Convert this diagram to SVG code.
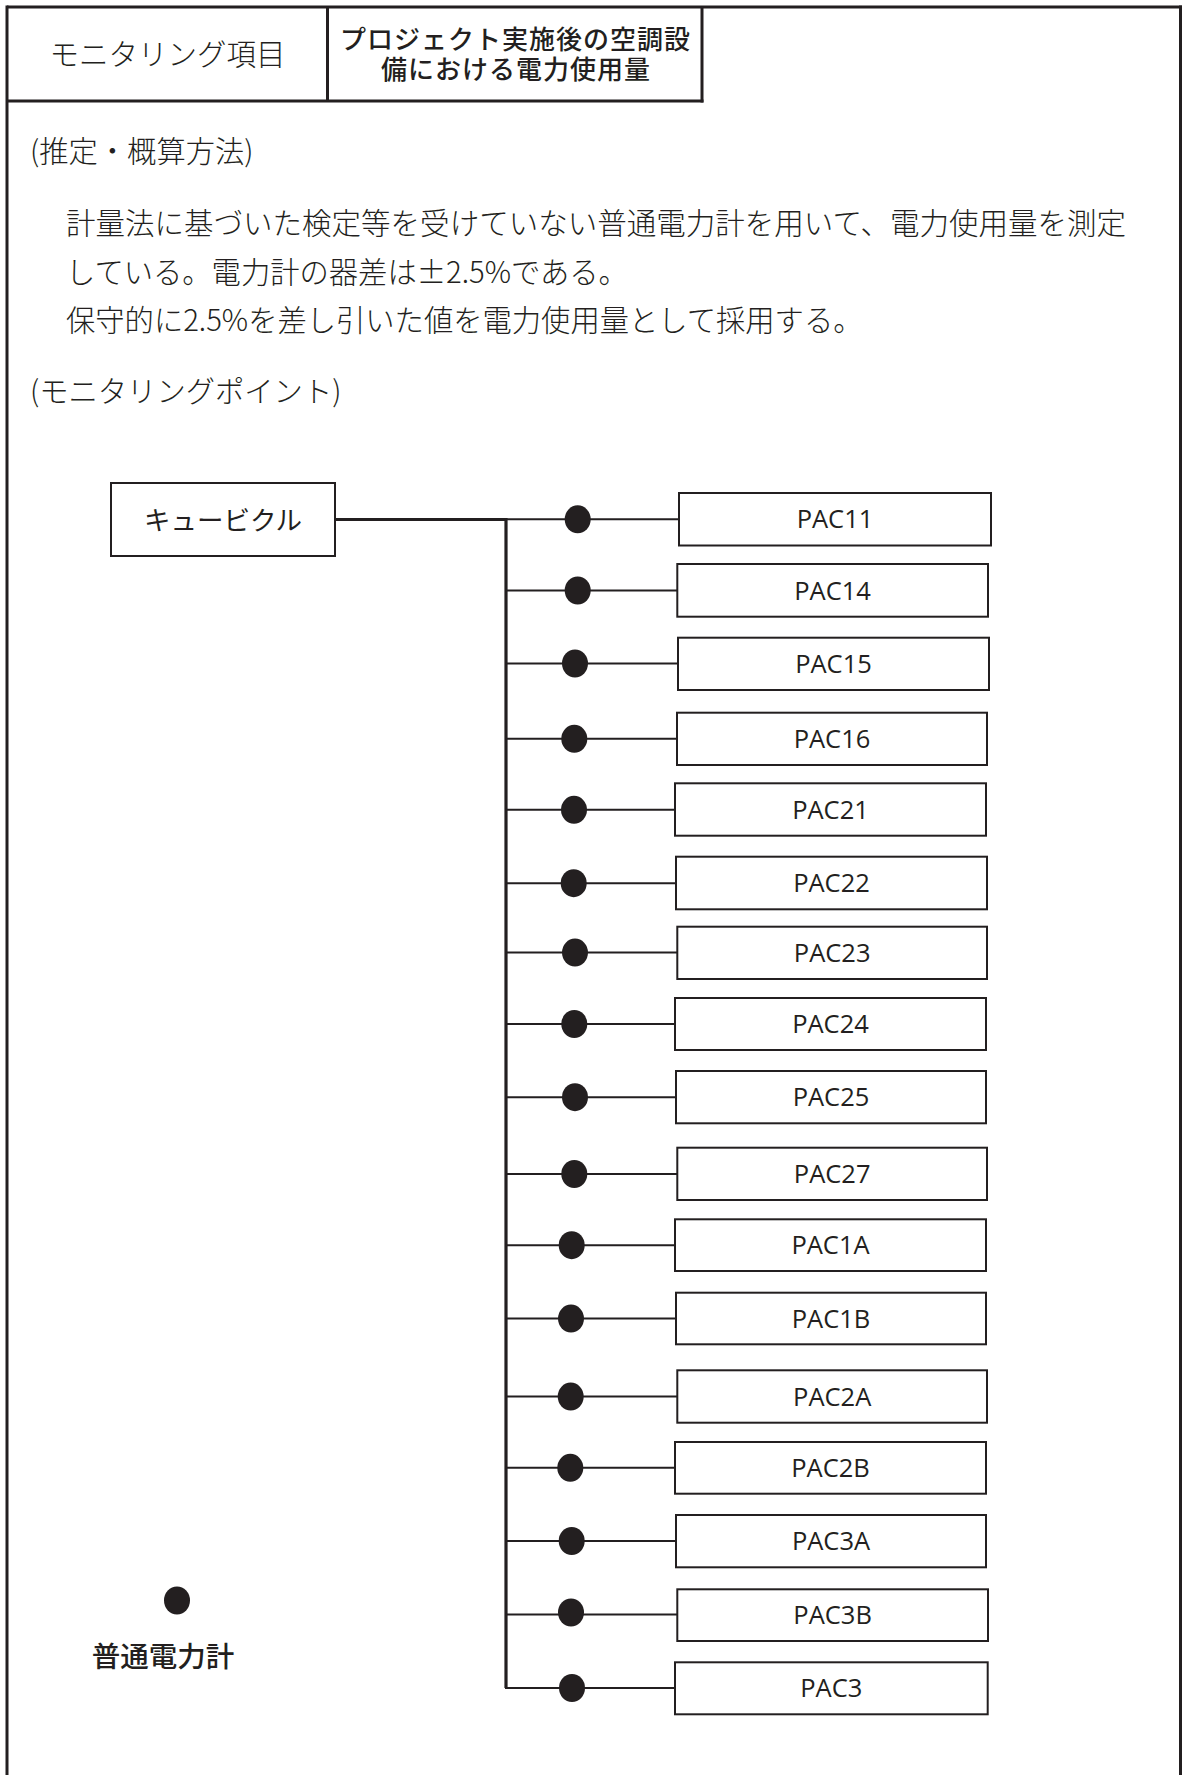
<svg xmlns="http://www.w3.org/2000/svg" width="1182" height="1775" viewBox="0 0 1182 1775">
<style>
.frame{stroke:#231f20;stroke-width:3;fill:none}
.box{fill:#fff;stroke:#231f20;stroke-width:2}
.thin{stroke:#231f20;stroke-width:2;fill:none}
.thick{stroke:#231f20;stroke-width:3.2;fill:none}
.dot{fill:#231f20}
.mincho{font-family:"Noto Sans CJK JP","Noto Sans",sans-serif;fill:#231f20}
.hdr1{font-size:29.5px;font-weight:300}
.hdr2{font-family:"Liberation Sans","Noto Sans CJK JP",sans-serif;font-size:26px;font-weight:500;letter-spacing:1px}
.body{font-size:29.3px;font-weight:300}
.goth{font-family:"Noto Sans CJK JP","Noto Sans",sans-serif;fill:#231f20;font-size:26.5px;font-weight:400}
.pac{font-family:"Open Sans","Noto Sans",sans-serif;font-size:25.5px;fill:#231f20;text-anchor:middle}
</style>
<rect width="1182" height="1775" fill="#fff"/>
<g id="frame">
<line class="frame" x1="7" y1="7" x2="1182" y2="7"/>
<line class="frame" x1="7" y1="5.5" x2="7" y2="1775"/>
<line class="frame" x1="1180.5" y1="5.5" x2="1180.5" y2="1775"/>
<line class="frame" x1="7" y1="101" x2="703.5" y2="101"/>
<line class="frame" x1="327.5" y1="7" x2="327.5" y2="101"/>
<line class="frame" x1="702" y1="7" x2="702" y2="102.5"/>
</g>
<g id="header">
<text class="mincho hdr1" x="167.5" y="65" text-anchor="middle">モニタリング項目</text>
<text class="mincho hdr2" x="515.5" y="48.5" text-anchor="middle">プロジェクト実施後の空調設</text>
<text class="mincho hdr2" x="516" y="78.5" text-anchor="middle">備における電力使用量</text>
</g>
<g id="description">
<text class="mincho body" x="30" y="161.5">(推定・概算方法)</text>
<text class="mincho body" x="66" y="233.5" textLength="1060" lengthAdjust="spacingAndGlyphs">計量法に基づいた検定等を受けていない普通電力計を用いて、電力使用量を測定</text>
<text class="mincho body" x="66" y="282.5">している。電力計の器差は±2.5%である。</text>
<text class="mincho body" x="66" y="330.5">保守的に2.5%を差し引いた値を電力使用量として採用する。</text>
<text class="mincho body" x="30" y="402">(モニタリングポイント)</text>
</g>
<g id="connectors">
<line class="thick" x1="335" y1="519.5" x2="506" y2="519.5"/>
<path class="thick" d="M506 518 V1688"/>
<line class="thin" x1="506" y1="519.3" x2="679" y2="519.3"/>
<line class="thin" x1="506" y1="590.5" x2="677.3" y2="590.5"/>
<line class="thin" x1="506" y1="663.5" x2="678" y2="663.5"/>
<line class="thin" x1="506" y1="738.8" x2="677" y2="738.8"/>
<line class="thin" x1="506" y1="809.8" x2="675" y2="809.8"/>
<line class="thin" x1="506" y1="883.2" x2="676" y2="883.2"/>
<line class="thin" x1="506" y1="952.6" x2="677.3" y2="952.6"/>
<line class="thin" x1="506" y1="1024" x2="675" y2="1024"/>
<line class="thin" x1="506" y1="1097.2" x2="676" y2="1097.2"/>
<line class="thin" x1="506" y1="1174" x2="677.3" y2="1174"/>
<line class="thin" x1="506" y1="1245.2" x2="675" y2="1245.2"/>
<line class="thin" x1="506" y1="1318.6" x2="676" y2="1318.6"/>
<line class="thin" x1="506" y1="1396.6" x2="677.3" y2="1396.6"/>
<line class="thin" x1="506" y1="1467.8" x2="675" y2="1467.8"/>
<line class="thin" x1="506" y1="1541" x2="676" y2="1541"/>
<line class="thin" x1="506" y1="1614.5" x2="677.3" y2="1614.5"/>
<line class="thin" x1="505" y1="1688" x2="675" y2="1688"/>
</g>
<g id="meters">
<ellipse class="dot" cx="577.7" cy="519.3" rx="13" ry="14"/>
<ellipse class="dot" cx="577.7" cy="590.5" rx="13" ry="14"/>
<ellipse class="dot" cx="575" cy="663.5" rx="13" ry="14"/>
<ellipse class="dot" cx="574.3" cy="738.8" rx="13" ry="14"/>
<ellipse class="dot" cx="574" cy="809.8" rx="13" ry="14"/>
<ellipse class="dot" cx="573.7" cy="883.2" rx="13" ry="14"/>
<ellipse class="dot" cx="575" cy="952.6" rx="13" ry="14"/>
<ellipse class="dot" cx="574.3" cy="1024" rx="13" ry="14"/>
<ellipse class="dot" cx="575" cy="1097.2" rx="13" ry="14"/>
<ellipse class="dot" cx="574.3" cy="1174" rx="13" ry="14"/>
<ellipse class="dot" cx="571.7" cy="1245.2" rx="13" ry="14"/>
<ellipse class="dot" cx="571" cy="1318.6" rx="13" ry="14"/>
<ellipse class="dot" cx="570.7" cy="1396.6" rx="13" ry="14"/>
<ellipse class="dot" cx="570.3" cy="1467.8" rx="13" ry="14"/>
<ellipse class="dot" cx="571.7" cy="1541" rx="13" ry="14"/>
<ellipse class="dot" cx="571" cy="1612.5" rx="13" ry="14"/>
<ellipse class="dot" cx="572" cy="1688" rx="13" ry="14"/>
</g>
<g id="cubicle">
<rect class="box" x="111" y="483" width="224" height="73"/>
<text class="goth" x="223" y="529.5" text-anchor="middle">キュービクル</text>
</g>
<g id="PAC11"><rect class="box" x="679" y="493" width="312" height="52.5"/><text class="pac" x="835" y="528.3">PAC11</text></g>
<g id="PAC14"><rect class="box" x="677.3" y="564" width="310.7" height="52.7"/><text class="pac" x="832.6" y="599.5">PAC14</text></g>
<g id="PAC15"><rect class="box" x="678" y="637.7" width="311" height="52.3"/><text class="pac" x="833.5" y="672.5">PAC15</text></g>
<g id="PAC16"><rect class="box" x="677" y="712.7" width="310" height="52.3"/><text class="pac" x="832" y="747.8">PAC16</text></g>
<g id="PAC21"><rect class="box" x="675" y="783.3" width="311" height="52.4"/><text class="pac" x="830.5" y="818.8">PAC21</text></g>
<g id="PAC22"><rect class="box" x="676" y="856.7" width="311" height="52.6"/><text class="pac" x="831.5" y="892.2">PAC22</text></g>
<g id="PAC23"><rect class="box" x="677.3" y="926.7" width="309.7" height="52.3"/><text class="pac" x="832.2" y="961.6">PAC23</text></g>
<g id="PAC24"><rect class="box" x="675" y="998" width="311" height="52"/><text class="pac" x="830.5" y="1033">PAC24</text></g>
<g id="PAC25"><rect class="box" x="676" y="1071" width="310" height="52.3"/><text class="pac" x="831" y="1106.2">PAC25</text></g>
<g id="PAC27"><rect class="box" x="677.3" y="1147.7" width="309.7" height="52.3"/><text class="pac" x="832.2" y="1183">PAC27</text></g>
<g id="PAC1A"><rect class="box" x="675" y="1219.3" width="311" height="51.7"/><text class="pac" x="830.5" y="1254.2">PAC1A</text></g>
<g id="PAC1B"><rect class="box" x="676" y="1292.7" width="310" height="51.6"/><text class="pac" x="831" y="1327.6">PAC1B</text></g>
<g id="PAC2A"><rect class="box" x="677.3" y="1370.3" width="309.7" height="52.4"/><text class="pac" x="832.2" y="1405.6">PAC2A</text></g>
<g id="PAC2B"><rect class="box" x="675" y="1442" width="311" height="51.7"/><text class="pac" x="830.5" y="1476.8">PAC2B</text></g>
<g id="PAC3A"><rect class="box" x="676" y="1515" width="310" height="52.3"/><text class="pac" x="831" y="1550">PAC3A</text></g>
<g id="PAC3B"><rect class="box" x="677.3" y="1589.3" width="310.7" height="51.7"/><text class="pac" x="832.6" y="1624">PAC3B</text></g>
<g id="PAC3"><rect class="box" x="675" y="1662.3" width="312.7" height="52"/><text class="pac" x="831.3" y="1697">PAC3</text></g>
<g id="legend">
<ellipse class="dot" cx="177" cy="1600.5" rx="13" ry="14"/>
<text class="goth" x="163" y="1666.5" text-anchor="middle" style="font-size:28.5px;font-weight:500">普通電力計</text>
</g>
</svg>
